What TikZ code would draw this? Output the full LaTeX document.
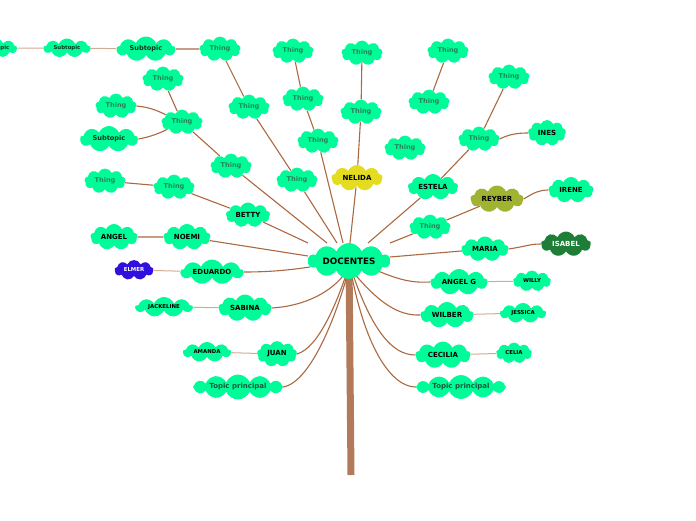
\documentclass[tikz,border=0pt]{standalone}
\usepackage{fontspec}
\setmainfont{DejaVu Sans}
\usetikzlibrary{shapes.symbols,backgrounds}
\definecolor{cgreen}{RGB}{0,252,152}
\definecolor{cyellow}{RGB}{228,220,32}
\definecolor{colive}{RGB}{160,180,50}
\definecolor{cdark}{RGB}{30,125,55}
\definecolor{cblue}{RGB}{48,16,220}
\definecolor{thingtxt}{RGB}{38,132,88}
\definecolor{toptxt}{RGB}{25,85,60}
\definecolor{subtxt}{RGB}{20,50,35}
\definecolor{brn}{RGB}{170,105,65}
\definecolor{tan}{RGB}{210,172,145}
\definecolor{trunkc}{RGB}{178,122,88}
\tikzset{
  cl/.style={cloud, cloud puffs=9, cloud puff arc=135, cloud ignores aspect, fill=cgreen, draw=none, inner sep=0pt, text=black},
  thing/.style={cl, minimum width=41pt, minimum height=25pt, text=thingtxt, font=\fontsize{6.6}{7}\selectfont\bfseries},
  namebox/.style={cl, font=\fontsize{7}{8}\selectfont\bfseries},
  smallbox/.style={cl, font=\fontsize{5.4}{6}\selectfont\bfseries},
  subbox/.style={cl, text=subtxt, font=\fontsize{6.6}{7}\selectfont\bfseries},
  topbox/.style={cl, cloud puffs=12, text=toptxt, font=\fontsize{7}{8}\selectfont\bfseries},
  conn/.style={draw=brn, line width=1.1pt},
  lconn/.style={draw=tan, line width=1pt},
  trunk/.style={draw=trunkc, line width=7pt}
}
\begin{document}
\begin{tikzpicture}[x=1pt,y=-1pt]
\useasboundingbox (0,0) rectangle (696,520);
% center
\node[cl, cloud puffs=10, minimum width=82pt, minimum height=36pt, font=\fontsize{8.8}{10}\selectfont\bfseries] (doc) at (349,261) {DOCENTES};
% top-left chain
\node[smallbox, text=subtxt, minimum width=42pt, minimum height=19pt] (sA) at (-4,48) {Subtopic};
\node[smallbox, text=subtxt, minimum width=47pt, minimum height=19pt] (sB) at (67,48) {Subtopic};
\node[subbox, minimum width=59pt, minimum height=25pt] (sC) at (146,49) {Subtopic};
\node[thing] (tA) at (220,49) {Thing};
\node[thing] (tB) at (249,107) {Thing};
\node[thing] (tC) at (297,180) {Thing};
\node[thing] (tD) at (163,79) {Thing};
\node[thing] (tE) at (182,122) {Thing};
\node[thing] (tF) at (116,106) {Thing};
\node[subbox, minimum width=58pt, minimum height=26pt] (sD) at (109,139) {Subtopic};
\node[thing] (tG) at (231,166) {Thing};
\node[thing] (tH) at (105,181) {Thing};
\node[thing] (tI) at (174,187) {Thing};
% left names
\node[namebox, minimum width=44pt, minimum height=25pt] (betty) at (248,215) {BETTY};
\node[namebox, minimum width=47pt, minimum height=26pt] (angel) at (114,237) {ANGEL};
\node[namebox, minimum width=47pt, minimum height=26pt] (noemi) at (187,237) {NOEMI};
\node[smallbox, fill=cblue, text=white, minimum width=39pt, minimum height=20pt] (elmer) at (134,270) {ELMER};
\node[namebox, minimum width=63pt, minimum height=25pt] (eduardo) at (212,272) {EDUARDO};
\node[smallbox, minimum width=57pt, minimum height=20pt] (jackeline) at (164,307) {JACKELINE};
\node[namebox, minimum width=53pt, minimum height=27pt] (sabina) at (245,308) {SABINA};
\node[smallbox, minimum width=48pt, minimum height=20pt] (amanda) at (207,352) {AMANDA};
\node[namebox, minimum width=40pt, minimum height=26pt] (juan) at (277,354) {JUAN};
\node[topbox, minimum width=90pt, minimum height=25pt] (topL) at (238,387) {Topic principal};
% top middle
\node[thing] (tJ) at (293,51) {Thing};
\node[thing] (tK) at (303,99) {Thing};
\node[thing] (tL) at (318,141) {Thing};
\node[thing] (tM) at (362,53) {Thing};
\node[thing] (tN) at (361,112) {Thing};
\node[namebox, fill=cyellow, minimum width=51pt, minimum height=26pt] (nelida) at (357,178) {NELIDA};
% top right
\node[thing] (tO) at (448,51) {Thing};
\node[thing] (tP) at (429,102) {Thing};
\node[thing] (tQ) at (405,148) {Thing};
\node[thing] (tR) at (509,77) {Thing};
\node[thing] (tS) at (479,139) {Thing};
\node[namebox, minimum width=38pt, minimum height=26pt] (ines) at (547,133) {INES};
\node[namebox, minimum width=50pt, minimum height=26pt] (estela) at (433,187) {ESTELA};
\node[namebox, fill=colive, minimum width=53pt, minimum height=27pt] (reyber) at (497,199) {REYBER};
\node[namebox, minimum width=45pt, minimum height=26pt] (irene) at (571,190) {IRENE};
\node[thing] (tT) at (430,227) {Thing};
% right names
\node[namebox, minimum width=47pt, minimum height=25pt] (maria) at (485,249) {MARIA};
\node[namebox, fill=cdark, text=white, minimum width=50pt, minimum height=25pt] (isabel) at (566,244) {ISABEL};
\node[namebox, minimum width=57pt, minimum height=26pt] (angelg) at (459,282) {ANGEL G};
\node[smallbox, minimum width=38pt, minimum height=21pt] (willy) at (532,281) {WILLY};
\node[namebox, minimum width=53pt, minimum height=26pt] (wilber) at (447,315) {WILBER};
\node[smallbox, minimum width=46pt, minimum height=20pt] (jessica) at (523,313) {JESSICA};
\node[namebox, minimum width=55pt, minimum height=27pt] (cecilia) at (443,355) {CECILIA};
\node[smallbox, minimum width=36pt, minimum height=21pt] (celia) at (514,353) {CELIA};
\node[topbox, minimum width=90pt, minimum height=24pt] (topR) at (461,387) {Topic principal};
% connector end points at the centre
\coordinate (cBetty) at (308,243);
\coordinate (cG) at (327,243);
\coordinate (cC) at (337,243);
\coordinate (cL) at (343,243);
\coordinate (cNel) at (350,243);
\coordinate (cEst) at (368,243);
\coordinate (cT) at (390,243);
\coordinate (cMar) at (390,257);
\coordinate (cNoe) at (308,256);
\coordinate (cEdu) at (310,267);
\coordinate (cAng) at (378,271);
\coordinate (k1) at (346,272);
\coordinate (k2) at (347,272);
\coordinate (k3) at (348,272);
\coordinate (k4) at (353,272);
\coordinate (k5) at (352,272);
\coordinate (k6) at (351,272);
\coordinate (trunkend) at (351,475);
\begin{scope}[on background layer]
\draw[trunk] (doc.center) -- (trunkend);
% top-left chain
\draw[lconn] (sA) -- (sB);
\draw[lconn] (sB) -- (sC);
\draw[conn] (sC) -- (tA);
\draw[conn] (tA) -- (tB);
\draw[conn] (tB) -- (tC);
\draw[conn] (tC) -- (cC);
\draw[conn] (tD) -- (tE);
\draw[conn] (tF.east) .. controls (150,107) and (160,112) .. (tE);
\draw[conn] (sD.east) .. controls (150,137) and (160,133) .. (tE);
\draw[conn] (tE) -- (tG);
\draw[conn] (tG) -- (cG);
\draw[conn] (tH) -- (tI);
\draw[conn] (tI) -- (betty);
\draw[conn] (betty) -- (cBetty);
\draw[conn] (angel) -- (noemi);
\draw[conn] (noemi) -- (cNoe);
\draw[lconn] (elmer) -- (eduardo);
\draw[conn] (eduardo.east) .. controls (270,272) and (290,270) .. (cEdu);
\draw[lconn] (jackeline) -- (sabina);
\draw[conn] (sabina.east) .. controls (305,306) and (332,292) .. (k1);
\draw[lconn] (amanda) -- (juan);
\draw[conn] (juan.east) .. controls (318,348) and (336,305) .. (k2);
\draw[conn] (topL.east) .. controls (312,382) and (338,310) .. (k3);
% top middle
\draw[conn] (tJ) -- (tK);
\draw[conn] (tK) -- (tL);
\draw[conn] (tL) -- (cL);
\draw[conn] (tM) -- (tN);
\draw[conn] (tN) -- (nelida);
\draw[conn] (nelida) -- (cNel);
% top right
\draw[conn] (tO) -- (tP);
\draw[conn] (tR) -- (tS);
\draw[conn] (tS.east) .. controls (510,134) and (518,133) .. (ines.west);
\draw[conn] (tS) -- (estela);
\draw[conn] (estela) -- (cEst);
\draw[conn] (reyber.east) .. controls (535,192) and (540,190) .. (irene.west);
\draw[conn] (reyber) -- (tT);
\draw[conn] (tT) -- (cT);
% right names
\draw[conn] (maria) -- (cMar);
\draw[conn] (maria.east) .. controls (528,246) and (530,244) .. (isabel.west);
\draw[conn] (cAng) .. controls (400,280) and (412,283) .. (angelg.west);
\draw[lconn] (angelg) -- (willy);
\draw[conn] (k4) .. controls (378,302) and (398,316) .. (wilber.west);
\draw[lconn] (wilber) -- (jessica);
\draw[conn] (k5) .. controls (372,330) and (392,355) .. (cecilia.west);
\draw[lconn] (cecilia) -- (celia);
\draw[conn] (k6) .. controls (366,350) and (392,387) .. (topR.west);
\end{scope}
\end{tikzpicture}
\end{document}
